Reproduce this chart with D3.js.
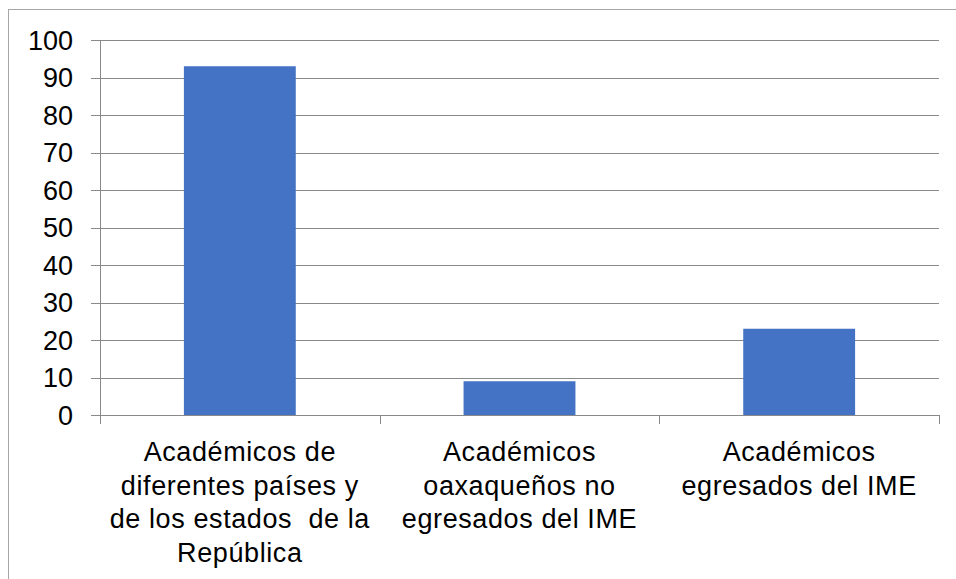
<!DOCTYPE html>
<html><head><meta charset="utf-8">
<script src="https://cdn.jsdelivr.net/npm/d3@7"></script>
<style>body{margin:0;background:#fff}svg{display:block}text{white-space:pre}</style>
</head><body>
<script>
const categories = [
  ["Académicos de", "diferentes países y", "de los estados  de la", "República"],
  ["Académicos", "oaxaqueños no", "egresados del IME"],
  ["Académicos", "egresados del IME"]
];
const values = [93, 9, 23];
const yTicks = [0, 10, 20, 30, 40, 50, 60, 70, 80, 90, 100];

(function () {
const W = 956, H = 579;
const svg = d3.select("body").append("svg").attr("width", W).attr("height", H);

svg.append("rect").attr("x", 8.5).attr("y", 9.5).attr("width", 1000).attr("height", 1000)
  .attr("fill", "none").attr("stroke", "#a6a6a6").attr("stroke-width", 1);

const pL = 100, pR = 939, pT = 40, pB = 415;
const x = d3.scaleBand().domain(d3.range(values.length)).range([pL, pR]).paddingInner(0.6).paddingOuter(0.3);
const y = d3.scaleLinear().domain([0, 100]).range([pB, pT]);

const gc = "#898989";
svg.append("g").selectAll("line").data(yTicks).join("line")
  .attr("x1", pL - 9).attr("x2", pR).attr("y1", d => Math.round(y(d)) + 0.5).attr("y2", d => Math.round(y(d)) + 0.5)
  .attr("stroke", gc).attr("stroke-width", 1);

svg.append("line").attr("x1", pL + 0.5).attr("x2", pL + 0.5).attr("y1", pT).attr("y2", pB + 9)
  .attr("stroke", gc);

const bounds = d3.range(values.length + 1).map(i => pL + i * (pR - pL) / values.length);
svg.append("g").selectAll("line").data(bounds).join("line")
  .attr("x1", d => Math.round(d) + 0.5).attr("x2", d => Math.round(d) + 0.5)
  .attr("y1", pB).attr("y2", pB + 9).attr("stroke", gc);

svg.append("g").selectAll("rect").data(values).join("rect")
  .attr("x", (d, i) => x(i)).attr("width", x.bandwidth())
  .attr("y", d => y(d)).attr("height", d => y(0) - y(d))
  .attr("fill", "#4472C4");

svg.append("g").selectAll("text").data(yTicks).join("text")
  .attr("x", 73).attr("y", d => y(d)).attr("dy", "0.36em")
  .attr("text-anchor", "end")
  .style("font-family", "Liberation Sans, Arial, sans-serif").style("font-size", "27px")
  .attr("fill", "#000").text(d => d);

const cg = svg.append("g").selectAll("text").data(categories).join("text")
  .attr("text-anchor", "middle")
  .style("font-family", "Liberation Sans, Arial, sans-serif").style("font-size", "27px")
  .style("letter-spacing", "0.6px")
  .attr("fill", "#000");
cg.each(function(lines, i) {
  const cx = x(i) + x.bandwidth() / 2;
  d3.select(this).selectAll("tspan").data(lines).join("tspan")
    .attr("x", cx).attr("y", (d, j) => 461 + j * 33.7).text(d => d);
});
})();
</script>
</body></html>
